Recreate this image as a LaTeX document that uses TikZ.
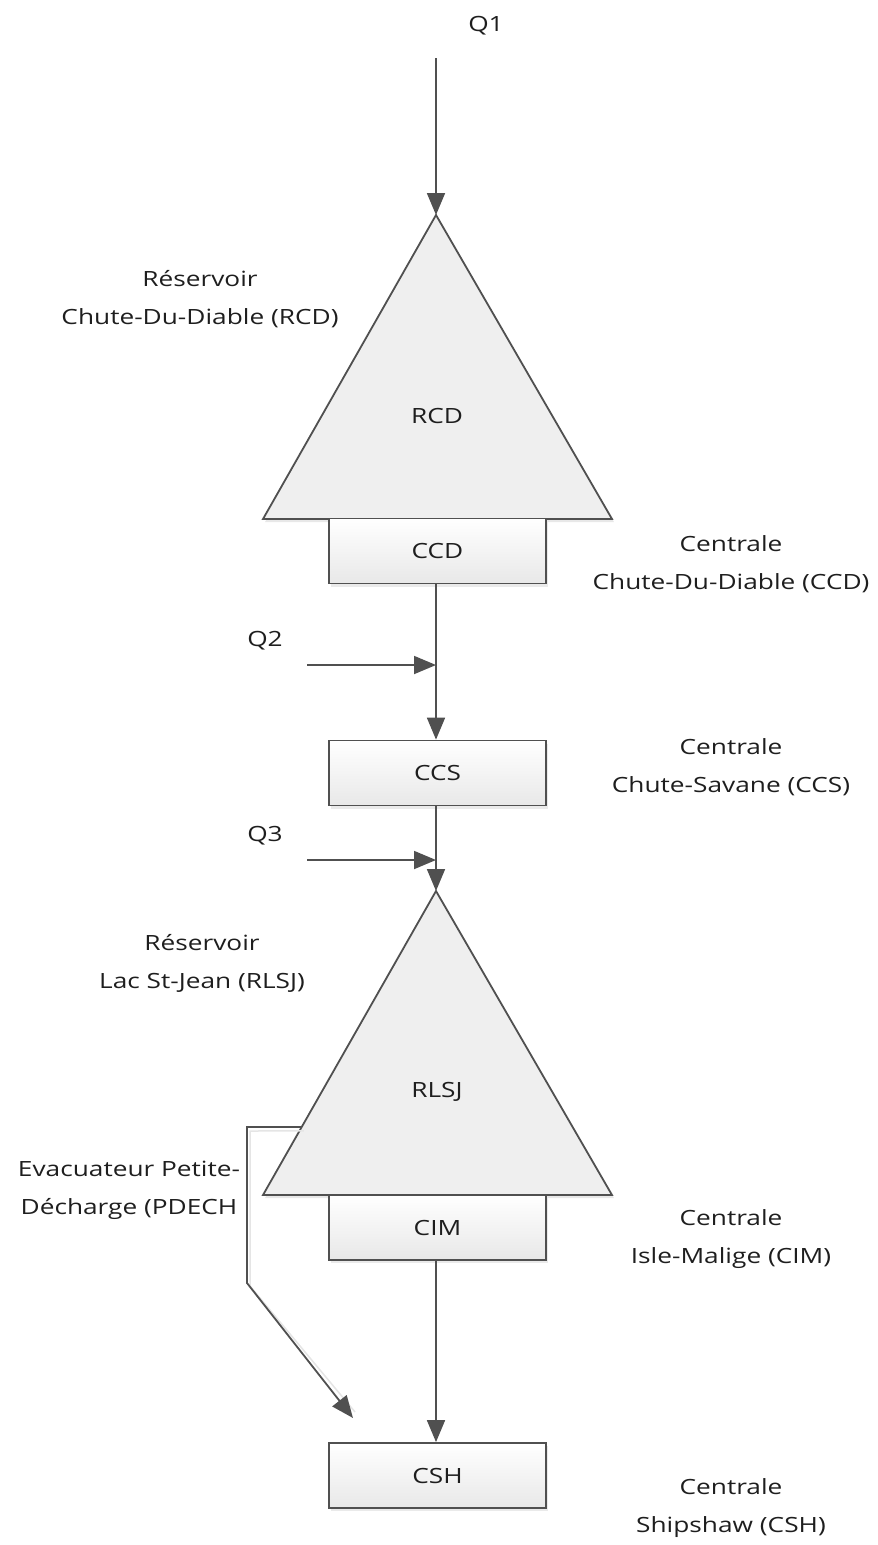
\documentclass[tikz,border=0pt]{standalone}
\usepackage{fontspec}
\setmainfont{Open Sans}[FakeStretch=1.25]
\usetikzlibrary{arrows.meta,calc,shadows}
\definecolor{lc}{HTML}{505050}
\definecolor{tc}{HTML}{EFEFEF}
\definecolor{txt}{HTML}{1E1E1E}
\begin{document}
\begin{tikzpicture}[x=1pt,y=-1pt,
  line/.style={draw=lc, line width=1.8pt},
  arr/.style={line, -{Triangle[length=22pt,width=18pt]}},
  box/.style={draw=lc, line width=1.8pt, minimum width=217pt, minimum height=65pt,
    top color=white, bottom color=black!9, inner sep=0pt,
    font=\fontsize{21}{25}\selectfont, text=txt,
    drop shadow={shadow xshift=2pt, shadow yshift=-3pt, fill=black!10, opacity=0.8}},
  tri/.style={draw=lc, line width=1.8pt, fill=tc, line join=miter},
  lbl/.style={align=center, inner sep=0pt, text=txt, font=\fontsize{21}{38}\selectfont},
]
\useasboundingbox (0,0) rectangle (878,1545);

% --- triangle RCD
\coordinate (apex1) at (436,215);
\coordinate (bl1) at (263,519);
\coordinate (br1) at (612,519);
\fill[black!9] ($(apex1)+(2,3)$) -- ($(bl1)+(2,3)$) -- ($(br1)+(2,3)$) -- cycle;
\draw[tri] (apex1) -- (bl1) -- (br1) -- cycle;
\node[lbl] (rcd) at (437,416) {RCD};

% --- triangle RLSJ
\coordinate (apex2) at (436,891);
\coordinate (bl2) at (263,1195);
\coordinate (br2) at (612,1195);
\fill[black!9] ($(apex2)+(2,3)$) -- ($(bl2)+(2,3)$) -- ($(br2)+(2,3)$) -- cycle;
\draw[tri] (apex2) -- (bl2) -- (br2) -- cycle;
\node[lbl] (rlsj) at (437,1092) {RLSJ};

% --- boxes
\node[box] (ccd) at (437.5,551) {CCD};
\node[box] (ccs) at (437.5,773) {CCS};
\node[box] (cim) at (437.5,1227.5) {CIM};
\node[box] (csh) at (437.5,1475.5) {CSH};

% --- flow labels
\node[lbl] (q1) at (486,26) {Q1};
\node[lbl] (q2) at (265,641) {Q2};
\node[lbl] (q3) at (265,836) {Q3};

% --- descriptive labels
\node[lbl] (lrcd) at (200,299) {Réservoir\\Chute-Du-Diable (RCD)};
\node[lbl] (lccd) at (731,564) {Centrale\\Chute-Du-Diable (CCD)};
\node[lbl] (lccs) at (731,767) {Centrale\\Chute-Savane (CCS)};
\node[lbl] (lrlsj) at (202,963) {Réservoir\\Lac St-Jean (RLSJ)};
\node[lbl] (lpdech) at (129,1190) {Evacuateur Petite-\\Décharge (PDECH};
\node[lbl] (lcim) at (731,1239) {Centrale\\Isle-Malige (CIM)};
\node[lbl] (lcsh) at (731,1508) {Centrale\\Shipshaw (CSH)};

% --- connectors
\coordinate (q1s) at (436,58);
\draw[arr] (q1s) -- (apex1);
\draw[arr] (ccd.south -| apex1) -- (ccs.north -| apex1);
\coordinate (q2s) at (307,665);
\draw[arr] (q2s) -- (q2s -| apex1);
\draw[arr] (ccs.south -| apex1) -- (apex2);
\coordinate (q3s) at (307,860);
\draw[arr] (q3s) -- (q3s -| apex1);
\draw[arr] (cim.south -| apex1) -- (csh.north -| apex1);

% --- PDECH spillway
\coordinate (pd0) at ($(apex2)!0.776!(bl2)$);
\coordinate (pd1) at (247,1127);
\coordinate (pd2) at (247,1283);
\coordinate (pdend) at (353,1418);
\draw[black!10, line width=1.5pt] ($(pd0)+(2,4)$) -- ($(pd1)+(3,4)$) -- ($(pd2)+(3,3)$) -- ($(pdend)+(2,-6)$);
\draw[arr] (pd0) -- (pd1) -- (pd2) -- (pdend);
\end{tikzpicture}
\end{document}
